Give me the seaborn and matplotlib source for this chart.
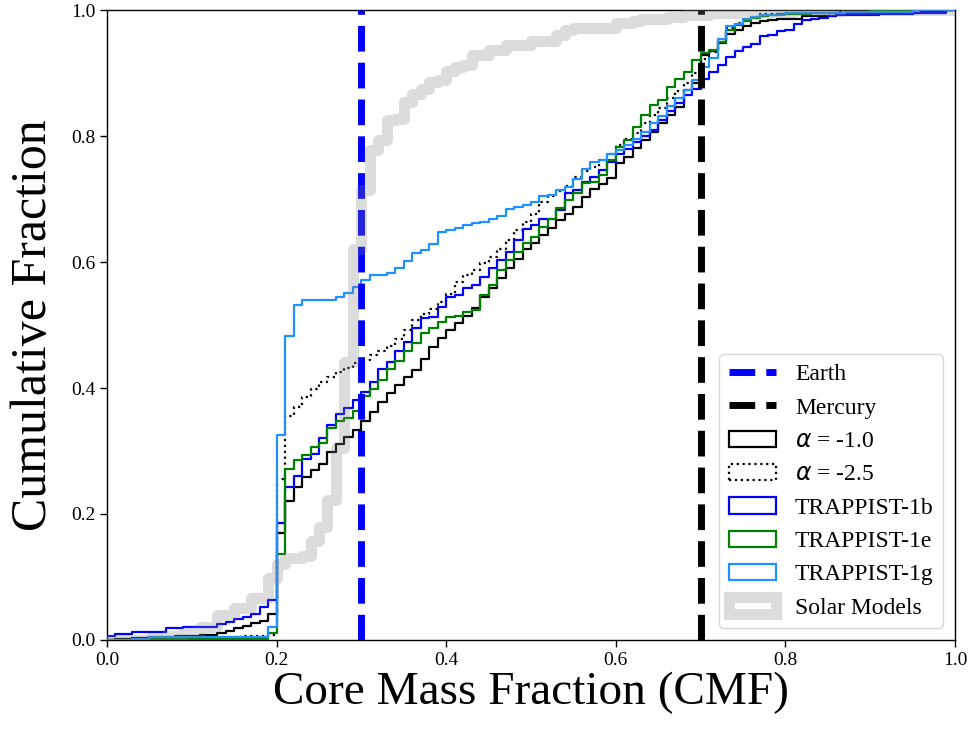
import numpy as np
import pandas as pd
import matplotlib
matplotlib.use("Agg")
import matplotlib.pyplot as plt
from matplotlib.lines import Line2D
from matplotlib.patches import Patch
import seaborn as sns

# CMF histogram: 100 bins of width 0.01 on [0, 1]
n_bins = 100
cmf_range = (0.0, 1.0)

# Cumulative fraction at the end of each bin
cdf_alpha_1 = [
    0.000, 0.001, 0.002, 0.003, 0.003, 0.004, 0.005, 0.005, 0.006, 0.006,
    0.007, 0.008, 0.008, 0.011, 0.014, 0.019, 0.022, 0.027, 0.030, 0.041,
    0.170, 0.221, 0.243, 0.259, 0.270, 0.280, 0.299, 0.311, 0.323, 0.333,
    0.347, 0.362, 0.378, 0.392, 0.405, 0.417, 0.429, 0.446, 0.465, 0.479,
    0.492, 0.503, 0.515, 0.527, 0.545, 0.558, 0.575, 0.590, 0.605, 0.620,
    0.630, 0.643, 0.654, 0.667, 0.677, 0.688, 0.703, 0.716, 0.724, 0.733,
    0.757, 0.767, 0.781, 0.794, 0.807, 0.820, 0.833, 0.846, 0.873, 0.884,
    0.929, 0.935, 0.948, 0.962, 0.968, 0.974, 0.979, 0.982, 0.984, 0.986,
    0.986, 0.986, 0.990, 0.990, 0.990, 0.990, 0.992, 0.992, 0.992, 0.992,
    0.992, 0.995, 0.995, 0.995, 0.995, 0.995, 0.998, 0.998, 0.998, 1.000,
]
cdf_alpha_25 = [
    0.000, 0.000, 0.001, 0.001, 0.002, 0.002, 0.002, 0.003, 0.003, 0.003,
    0.004, 0.004, 0.004, 0.005, 0.005, 0.005, 0.006, 0.006, 0.006, 0.008,
    0.255, 0.356, 0.370, 0.385, 0.398, 0.410, 0.418, 0.426, 0.431, 0.439,
    0.445, 0.452, 0.458, 0.467, 0.477, 0.492, 0.508, 0.517, 0.526, 0.537,
    0.550, 0.568, 0.579, 0.587, 0.598, 0.608, 0.621, 0.635, 0.651, 0.664,
    0.677, 0.696, 0.704, 0.712, 0.720, 0.735, 0.744, 0.751, 0.762, 0.772,
    0.785, 0.795, 0.805, 0.820, 0.833, 0.844, 0.860, 0.872, 0.884, 0.900,
    0.923, 0.934, 0.950, 0.971, 0.979, 0.984, 0.989, 0.993, 0.993, 0.993,
    0.993, 0.995, 0.995, 0.995, 0.995, 0.995, 0.997, 0.997, 0.997, 0.997,
    0.997, 0.997, 1.000, 1.000, 1.000, 1.000, 1.000, 1.000, 1.000, 1.000,
]
cdf_trappist_1b = [
    0.006, 0.009, 0.009, 0.013, 0.013, 0.013, 0.013, 0.019, 0.019, 0.021,
    0.021, 0.021, 0.021, 0.026, 0.029, 0.033, 0.037, 0.041, 0.052, 0.063,
    0.186, 0.243, 0.261, 0.288, 0.295, 0.320, 0.341, 0.358, 0.368, 0.381,
    0.394, 0.410, 0.430, 0.442, 0.459, 0.473, 0.495, 0.511, 0.513, 0.528,
    0.545, 0.548, 0.558, 0.563, 0.577, 0.590, 0.603, 0.616, 0.635, 0.653,
    0.659, 0.669, 0.669, 0.683, 0.709, 0.714, 0.727, 0.735, 0.746, 0.759,
    0.772, 0.780, 0.790, 0.800, 0.810, 0.825, 0.840, 0.852, 0.865, 0.875,
    0.890, 0.902, 0.913, 0.926, 0.935, 0.941, 0.946, 0.958, 0.961, 0.966,
    0.968, 0.978, 0.984, 0.986, 0.987, 0.990, 0.992, 0.993, 0.993, 0.993,
    0.993, 0.993, 0.993, 0.993, 0.993, 0.995, 0.995, 0.995, 0.995, 1.000,
]
cdf_trappist_1e = [
    0.000, 0.000, 0.000, 0.001, 0.001, 0.001, 0.001, 0.001, 0.001, 0.001,
    0.002, 0.002, 0.002, 0.002, 0.002, 0.002, 0.002, 0.002, 0.002, 0.011,
    0.136, 0.272, 0.285, 0.294, 0.307, 0.313, 0.336, 0.347, 0.353, 0.364,
    0.387, 0.398, 0.413, 0.430, 0.443, 0.458, 0.472, 0.487, 0.495, 0.505,
    0.513, 0.515, 0.521, 0.524, 0.548, 0.563, 0.587, 0.603, 0.616, 0.630,
    0.640, 0.656, 0.669, 0.685, 0.698, 0.709, 0.725, 0.727, 0.738, 0.762,
    0.783, 0.794, 0.815, 0.833, 0.849, 0.857, 0.878, 0.891, 0.902, 0.921,
    0.931, 0.937, 0.950, 0.969, 0.976, 0.983, 0.987, 0.990, 0.992, 0.993,
    0.994, 0.994, 0.994, 0.995, 0.995, 0.996, 0.996, 0.997, 0.997, 0.997,
    0.998, 0.998, 1.000, 1.000, 1.000, 1.000, 1.000, 1.000, 1.000, 1.000,
]
cdf_trappist_1g = [
    0.000, 0.000, 0.000, 0.002, 0.002, 0.005, 0.005, 0.005, 0.005, 0.005,
    0.005, 0.005, 0.005, 0.005, 0.005, 0.005, 0.005, 0.005, 0.005, 0.020,
    0.325, 0.483, 0.532, 0.540, 0.540, 0.540, 0.540, 0.545, 0.551, 0.561,
    0.571, 0.579, 0.579, 0.582, 0.590, 0.601, 0.614, 0.619, 0.628, 0.647,
    0.651, 0.654, 0.658, 0.662, 0.664, 0.668, 0.673, 0.684, 0.687, 0.690,
    0.696, 0.704, 0.707, 0.714, 0.719, 0.731, 0.747, 0.758, 0.762, 0.772,
    0.778, 0.786, 0.796, 0.807, 0.820, 0.831, 0.847, 0.860, 0.873, 0.889,
    0.910, 0.924, 0.954, 0.975, 0.978, 0.985, 0.989, 0.992, 0.992, 0.992,
    0.995, 0.995, 0.995, 0.995, 0.995, 0.995, 0.995, 0.997, 0.997, 0.997,
    0.997, 0.997, 0.997, 0.997, 0.997, 1.000, 1.000, 1.000, 1.000, 1.000,
]
cdf_solar = [
    0.000, 0.000, 0.000, 0.000, 0.000, 0.003, 0.003, 0.006, 0.006, 0.012,
    0.012, 0.021, 0.021, 0.039, 0.039, 0.050, 0.050, 0.066, 0.066, 0.098,
    0.120, 0.130, 0.130, 0.133, 0.157, 0.179, 0.222, 0.305, 0.441, 0.621,
    0.714, 0.778, 0.794, 0.825, 0.827, 0.854, 0.867, 0.875, 0.886, 0.889,
    0.904, 0.910, 0.912, 0.929, 0.929, 0.937, 0.937, 0.944, 0.944, 0.944,
    0.951, 0.951, 0.951, 0.961, 0.968, 0.971, 0.971, 0.971, 0.971, 0.971,
    0.979, 0.979, 0.983, 0.985, 0.985, 0.985, 0.989, 0.989, 0.992, 0.992,
    0.992, 0.995, 0.995, 0.995, 0.995, 0.995, 0.997, 0.997, 0.997, 0.997,
    0.997, 1.000, 1.000, 1.000, 1.000, 1.000, 1.000, 1.000, 1.000, 1.000,
    1.000, 1.000, 1.000, 1.000, 1.000, 1.000, 1.000, 1.000, 1.000, 1.000,
]

earth_cmf = 0.30
mercury_cmf = 0.70

series_labels = [r"$\alpha$ = -1.0", r"$\alpha$ = -2.5",
                 "TRAPPIST-1b", "TRAPPIST-1e", "TRAPPIST-1g"]
series_cdfs = [cdf_alpha_1, cdf_alpha_25, cdf_trappist_1b,
               cdf_trappist_1e, cdf_trappist_1g]
series_colors = ["black", "black", "blue", "green", "dodgerblue"]
series_styles = ["-", ":", "-", "-", "-"]

sns.set_theme(style="ticks")
plt.rcParams["font.family"] = ["Liberation Serif", "DejaVu Serif"]
plt.rcParams["mathtext.fontset"] = "dejavusans"
plt.rcParams["text.color"] = "black"
plt.rcParams["axes.labelcolor"] = "black"
plt.rcParams["xtick.color"] = "black"
plt.rcParams["ytick.color"] = "black"

fig = plt.figure(figsize=(9.71, 7.32), dpi=100)
ax = fig.add_axes([0.1102, 0.1257, 0.8733, 0.8606])

bin_edges = np.linspace(cmf_range[0], cmf_range[1], n_bins + 1)
centers = (bin_edges[:-1] + bin_edges[1:]) / 2


def bin_weights(cdf):
    # per-bin fraction recovered from the cumulative values
    return np.diff(np.concatenate([[0.0], np.asarray(cdf, dtype=float)]))


def step_cdf(cdf, **kws):
    df = pd.DataFrame({"cmf": centers, "w": bin_weights(cdf)})
    sns.histplot(data=df, x="cmf", weights="w", bins=n_bins,
                 binrange=cmf_range, cumulative=True, element="step",
                 fill=False, ax=ax, **kws)


for cdf, color, ls in zip(series_cdfs, series_colors, series_styles):
    step_cdf(cdf, color=color, linewidth=1.6, linestyle=ls, zorder=3)

ax.axvline(earth_cmf, color="blue", linestyle="--", linewidth=5, zorder=4)
ax.axvline(mercury_cmf, color="black", linestyle="--", linewidth=5, zorder=4)

step_cdf(cdf_solar, color="gray", alpha=0.27, linewidth=8, zorder=5)

ax.set_xlim(0, 1)
ax.set_ylim(0, 1)
ax.set_xticks(np.arange(0, 1.01, 0.2))
ax.set_yticks(np.arange(0, 1.01, 0.2))
ax.tick_params(labelsize=14, direction="out", length=5, width=1,
               colors="black", labelcolor="black")
for sp in ax.spines.values():
    sp.set_color("black")
    sp.set_linewidth(1.0)

ax.set_xlabel("Core Mass Fraction (CMF)", fontsize=34, labelpad=2,
              color="black")
ax.set_ylabel("Cumulative Fraction", fontsize=36, labelpad=10, color="black")

handles = [
    Line2D([0], [0], color="blue", linestyle="--", linewidth=5),
    Line2D([0], [0], color="black", linestyle="--", linewidth=5),
]
for color, ls in zip(series_colors, series_styles):
    handles.append(Patch(facecolor="none", edgecolor=color, linestyle=ls,
                         linewidth=1.6))
handles.append(Patch(facecolor="none", edgecolor="gray", alpha=0.27,
                     linewidth=8))
labels = ["Earth", "Mercury"] + series_labels + ["Solar Models"]

leg = ax.legend(handles, labels, loc="lower right", fontsize=17,
                handlelength=2.0, handleheight=0.7, labelspacing=0.5,
                frameon=True, framealpha=0.8, edgecolor="#cccccc",
                fancybox=True)
for txt in leg.get_texts():
    txt.set_color("black")

fig.savefig("out.png", dpi=100)
